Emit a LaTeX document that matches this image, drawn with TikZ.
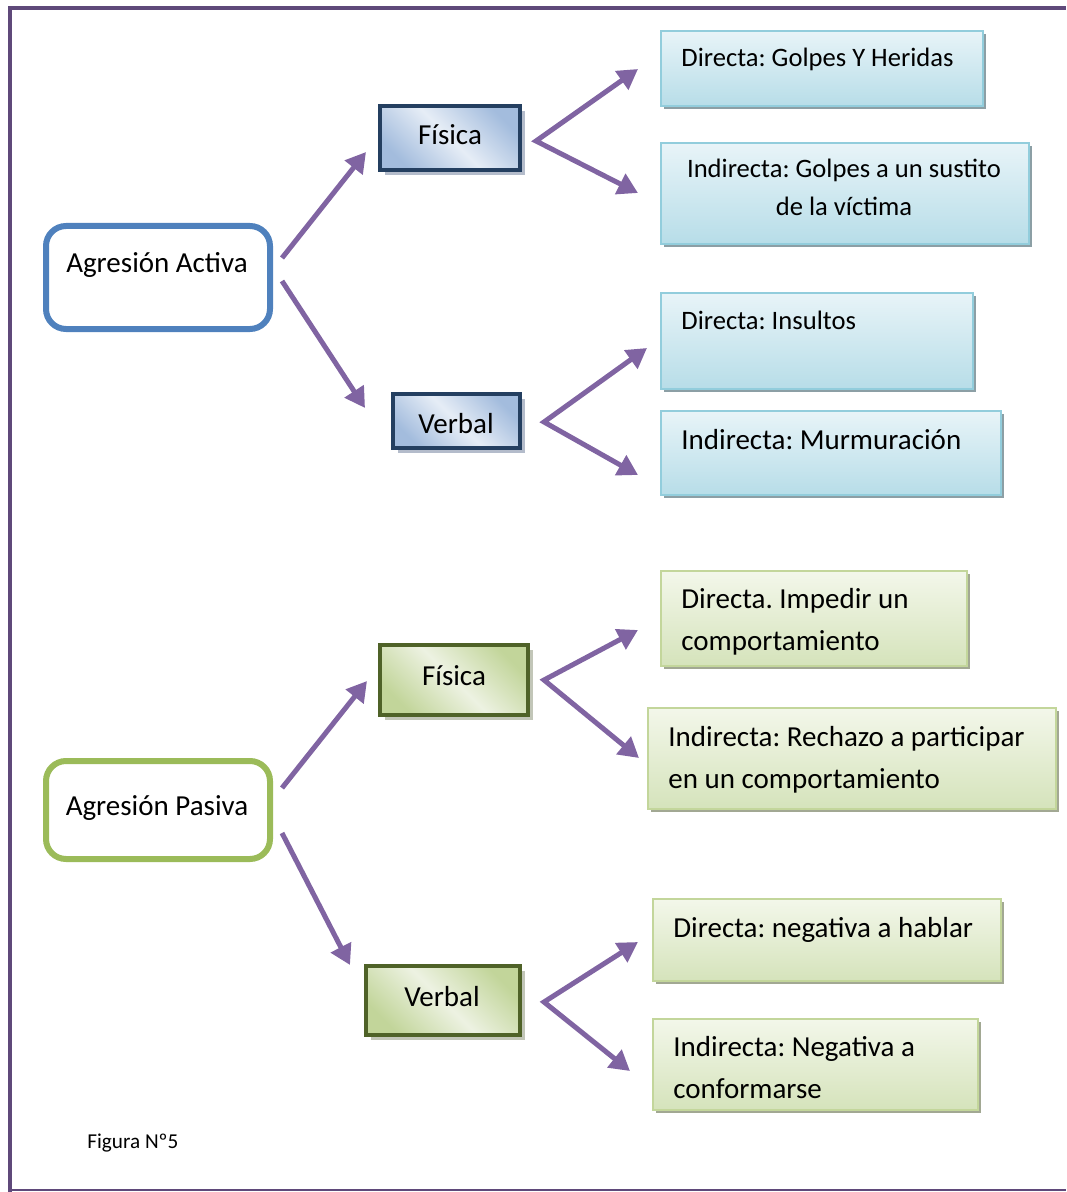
\documentclass[tikz,border=0pt]{standalone}
\usepackage{fontspec}
\setmainfont{Carlito}
\usetikzlibrary{arrows.meta,shadows,fit}
\frenchspacing
\definecolor{framec}{HTML}{5F497A}
\definecolor{arrc}{HTML}{8064A2}
\definecolor{actc}{HTML}{4F81BD}
\definecolor{pasc}{HTML}{9BBB59}
\definecolor{midBline}{HTML}{243F60}
\definecolor{midBdark}{HTML}{A3BCDD}
\definecolor{midBlight}{HTML}{E6EDF6}
\definecolor{midBsh}{HTML}{B4BCCB}
\definecolor{midGline}{HTML}{4F6228}
\definecolor{midGdark}{HTML}{C2D59A}
\definecolor{midGlight}{HTML}{EDF2E2}
\definecolor{midGsh}{HTML}{C2C6B8}
\definecolor{leafBline}{HTML}{92CDDC}
\definecolor{leafBtop}{HTML}{E8F4F8}
\definecolor{leafBbot}{HTML}{B7DDE8}
\definecolor{leafBsh}{HTML}{8C9FA5}
\definecolor{leafGline}{HTML}{C3D69B}
\definecolor{leafGtop}{HTML}{F3F7EA}
\definecolor{leafGbot}{HTML}{D5E3BB}
\definecolor{leafGsh}{HTML}{A2A893}
\newcommand\myfA{\fontsize{14.5}{21}\selectfont}
\newcommand\myfB{\fontsize{13.3}{19}\selectfont}
\newcommand\myfC{\fontsize{10.6}{13}\selectfont}
\tikzset{
  mainbox/.style={line width=3pt, rounded corners=10pt, fill=white, inner sep=0pt},
  midB/.style={draw=midBline, line width=2pt, inner sep=0pt, font=\myfA,
    top color=midBdark, bottom color=midBdark, middle color=midBlight, shading angle=-45,
    drop shadow={shadow xshift=2.5pt, shadow yshift=-2.5pt, fill=midBsh, opacity=1}},
  midG/.style={draw=midGline, line width=2pt, inner sep=0pt, font=\myfA,
    top color=midGdark, bottom color=midGdark, middle color=midGlight, shading angle=-45,
    drop shadow={shadow xshift=2.5pt, shadow yshift=-2.5pt, fill=midGsh, opacity=1}},
  leafB/.style={draw=leafBline, line width=1pt, inner sep=0pt,
    top color=leafBtop, bottom color=leafBbot,
    drop shadow={shadow xshift=1.5pt, shadow yshift=-1.5pt, fill=leafBsh, opacity=1}},
  leafG/.style={draw=leafGline, line width=1pt, inner sep=0pt,
    top color=leafGtop, bottom color=leafGbot,
    drop shadow={shadow xshift=1.5pt, shadow yshift=-1.5pt, fill=leafGsh, opacity=1}},
  txt/.style={inner sep=0pt, anchor=base west},
  ctxt/.style={inner sep=0pt, anchor=base},
  arr/.style={draw=arrc, line width=2.5pt, line join=miter},
  tip/.tip={Triangle[length=10pt,width=11pt]}
}
\begin{document}
\begin{tikzpicture}[x=0.5pt,y=-0.5pt]
\useasboundingbox (0,0) rectangle (1066,1192);
% frame
\coordinate (fr1) at (10,1192);
\coordinate (fr2) at (10,8);
\coordinate (fr3) at (1066,8);
\coordinate (fb1) at (8,1190);
\coordinate (fb2) at (1066,1190);
\draw[framec, line width=2pt] (fr1) -- (fr2) -- (fr3);
\draw[framec, line width=0.9pt] (fb1) -- (fb2);

% root boxes
\node[mainbox, draw=actc, fit={(46,226) (270,329)}] (aa) {};
\node[ctxt, font=\myfA] (aat) at (157,273) {Agresión Activa};
\node[mainbox, draw=pasc, fit={(46,761) (270,859)}] (ap) {};
\node[ctxt, font=\myfA] (apt) at (157,815) {Agresión Pasiva};

% middle boxes
\node[midB, fit={(380,106) (520,170)}] (f1) {};
\node[ctxt, font=\myfA] (f1t) at (450,145) {Física};
\node[midB, fit={(393,394) (520,448)}] (v1) {};
\node[ctxt, font=\myfA] (v1t) at (456,433) {Verbal};
\node[midG, fit={(380,645) (528,715)}] (f2) {};
\node[ctxt, font=\myfA] (f2t) at (454,685) {Física};
\node[midG, fit={(366,966) (520,1035)}] (v2) {};
\node[ctxt, font=\myfA] (v2t) at (442,1006) {Verbal};

% blue leaves
\node[leafB, fit={(661,31) (983,106)}] (l1) {};
\node[txt, font=\myfB] (l1t) at (681,67) {Directa: Golpes Y Heridas};
\node[leafB, fit={(661,143) (1029,244)}] (l2) {};
\node[ctxt, font=\myfB] (l2t) at (844,178) {\begin{tabular}[t]{@{}c@{}}Indirecta: Golpes a un sustito\\de la víctima\end{tabular}};
\node[leafB, fit={(661,293) (973,389)}] (l3) {};
\node[txt, font=\myfB] (l3t) at (681,329) {Directa: Insultos};
\node[leafB, fit={(661,411) (1001,495)}] (l4) {};
\node[txt, font=\myfA] (l4t) at (681,449) {Indirecta: Murmuración};

% green leaves
\node[leafG, fit={(661,571) (967,666)}] (g1) {};
\node[txt, font=\myfA] (g1t) at (681,608) {\begin{tabular}[t]{@{}l@{}}Directa. Impedir un\\comportamiento\end{tabular}};
\node[leafG, fit={(648,708) (1056,809)}] (g2) {};
\node[txt, font=\myfA] (g2t) at (668,746) {\begin{tabular}[t]{@{}l@{}}Indirecta: Rechazo a participar\\en un comportamiento\end{tabular}};
\node[leafG, fit={(653,899) (1001,981)}] (g3) {};
\node[txt, font=\myfA] (g3t) at (673,937) {Directa: negativa a hablar};
\node[leafG, fit={(653,1019) (978,1110)}] (g4) {};
\node[txt, font=\myfA] (g4t) at (673,1056) {\begin{tabular}[t]{@{}l@{}}Indirecta: Negativa a\\conformarse\end{tabular}};

% caption
\node[txt, font=\myfC] (cap) at (87,1148) {Figura Nº5};

% arrow coordinates
\coordinate (aa1) at (282,258); \coordinate (f1in) at (366,152);
\coordinate (aa2) at (282,281); \coordinate (v1in) at (365,408);
\coordinate (f1v) at (536,141); \coordinate (l1in) at (638,69); \coordinate (l2in) at (638,193);
\coordinate (v1v) at (544,422); \coordinate (l3in) at (647,348); \coordinate (l4in) at (638,475);
\coordinate (ap1) at (282,788); \coordinate (f2in) at (367,681);
\coordinate (ap2) at (282,833); \coordinate (v2in) at (350,965);
\coordinate (f2v) at (544,680); \coordinate (g1in) at (638,630); \coordinate (g2in) at (639,758);
\coordinate (v2v) at (544,1002); \coordinate (g3in) at (638,942); \coordinate (g4in) at (630,1071);

\draw[arr, -{tip}] (aa1) -- (f1in);
\draw[arr, -{tip}] (aa2) -- (v1in);
\draw[arr, {tip}-{tip}] (l1in) -- (f1v) -- (l2in);
\draw[arr, {tip}-{tip}] (l3in) -- (v1v) -- (l4in);
\draw[arr, -{tip}] (ap1) -- (f2in);
\draw[arr, -{tip}] (ap2) -- (v2in);
\draw[arr, {tip}-{tip}] (g1in) -- (f2v) -- (g2in);
\draw[arr, {tip}-{tip}] (g3in) -- (v2v) -- (g4in);
\end{tikzpicture}
\end{document}
